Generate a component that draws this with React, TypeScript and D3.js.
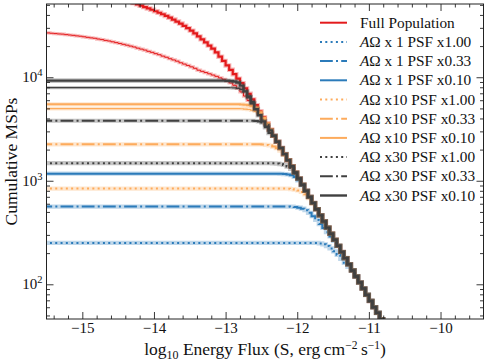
import * as d3 from "d3";
import { useEffect, useRef } from "react";

// log10 flux bins (0.05 dex wide); the full population starts at -14.40
const binWidth = 0.05;
const fullPopStart = -14.4;
const fullPop = [
  55200, 53700, 52100, 50600, 49100, 47600, 46200, 44900, 43400, 42000,
  40600, 39100, 37600, 36100, 34500, 33000, 31400, 29800, 28200, 26500,
  24800, 23200, 21700, 20200, 18900, 17400, 15800, 14400, 13000, 11800,
  10700, 9700, 8770, 7800, 6920, 6110, 5370, 4690, 4090, 3570,
  3120, 2720, 2380, 2070, 1810, 1580, 1380, 1200, 1050, 916,
  800, 698, 610, 531, 463, 405, 353, 308, 269, 235,
  205, 179, 156, 136, 119, 104, 91, 79, 69, 60,
  53, 46, 35,
];

// thin red curve (no legend entry), starts at -15.50
const thinRedStart = -15.5;
const thinRed = [
  26800, 26600, 26400, 26200, 26100, 25800, 25600, 25400, 25100, 24900,
  24600, 24300, 24000, 23800, 23400, 23100, 22700, 22400, 22000, 21600,
  21200, 20800, 20400, 20000, 19600, 19100, 18700, 18300, 17800, 17400,
  16900, 16500, 16000, 15600, 15100, 14700, 14300, 13800, 13400, 13000,
  12600, 12200, 11700, 11400, 11100, 10800, 10500, 10200, 9860, 9550,
  9200, 8810, 8360, 7820, 7210, 6580, 5960, 5370, 4840, 4370,
];

// per series: plateau level, where the knee starts, and knee values until it joins the full population
const levels = [251, 563, 1170, 840, 2250, 5480, 1480, 3800, 9270];
const kneeStarts = [-11.75, -12.15, -12.3, -12.2, -12.55, -12.85, -12.4, -12.65, -13.05];
const knees = [
  [251, 248, 243, 234, 222, 208, 192, 176, 161, 147],
  [563, 562, 558, 550, 538, 519, 490, 455, 418, 382, 350, 318, 290, 262],
  [1170, 1168, 1160, 1150, 1130, 1090, 1010, 900],
  [840, 838, 832, 822, 806, 780, 740, 680, 600],
  [2250, 2240, 2220, 2190, 2140, 2060, 1950, 1780],
  [5480, 5460, 5420, 5350, 5250, 5080, 4600, 4050],
  [1480, 1475, 1465, 1450, 1420, 1370, 1300, 1180],
  [3800, 3780, 3740, 3650, 3450, 3080],
  [9270, 9250, 9200, 9100, 8900, 8300, 7300, 6400, 5600, 4900, 4300, 3750, 3300, 2900],
];
const aoLabels = ["x 1", "x 1", "x 1", "x10", "x10", "x10", "x30", "x30", "x30"];
const psfLabels = ["x1.00", "x0.33", "x0.10", "x1.00", "x0.33", "x0.10", "x1.00", "x0.33", "x0.10"];

// thin companions of the solid lines (no legend entry)
const thinGrayLevel = 7940;
const thinGrayStart = -13.0;
const thinGrayKnee = [7940, 7920, 7880, 7800, 7650, 7300, 6600, 5850, 5100, 4500, 3950, 3450];
const thinOrangeLevel = 4970;
const thinOrangeStart = -12.85;
const thinOrangeKnee = [4970, 4960, 4930, 4880, 4800, 4680, 4450, 4000];

const xMajor = [-15, -14, -13, -12, -11, -10];
const yMajor = [100, 1000, 10000];
const yMajorExp = ["2", "3", "4"];

const RED = "#e31a1c";
const BLUE = "#2b7bba";
const ORANGE = "#fdab5c";
const DARK = "#404040";
const FONT = "'Liberation Serif', 'Times New Roman', serif";

const App = () => {
  const ref = useRef<SVGSVGElement>(null);

  useEffect(() => {
    document.body.style.margin = "0";
    const width = 488;
    const height = 362;
    const margin = { top: 4, right: 4.5, bottom: 43, left: 46.5 };
    const svg = d3.select(ref.current);
    svg.selectAll("*").remove();

    const x = d3.scaleLinear().domain([-15.5, -9.4]).range([margin.left, width - margin.right]);
    const y = d3.scaleLog().domain([46.2, 51000]).range([height - margin.bottom, margin.top]);

    svg.append("defs").append("clipPath").attr("id", "plot-clip")
      .append("rect")
      .attr("x", margin.left).attr("y", margin.top)
      .attr("width", width - margin.left - margin.right)
      .attr("height", height - margin.top - margin.bottom);

    const xLeft = -15.6;
    const tail = (from: number) => fullPop
      .map((v, i) => [fullPopStart + i * binWidth, v] as [number, number])
      .filter(d => d[0] > from - 1e-6);
    const build = (level: number, start: number, knee: number[]) => {
      const pts: [number, number][] = [[xLeft, level]];
      knee.forEach((v, i) => pts.push([start + i * binWidth, v]));
      return pts.concat(tail(start + knee.length * binWidth));
    };

    const line = d3.line<[number, number]>()
      .x(d => x(d[0]))
      .y(d => y(d[1]))
      .curve(d3.curveStepAfter);

    const plot = svg.append("g").attr("clip-path", "url(#plot-clip)");

    const draw = (pts: [number, number][], color: string, lw: number, dash: string | null, halo: boolean) => {
      if (halo) {
        plot.append("path")
          .attr("d", line(pts))
          .attr("fill", "none")
          .attr("stroke", color)
          .attr("stroke-opacity", 0.3)
          .attr("stroke-width", lw + 2.2);
      }
      plot.append("path")
        .attr("d", line(pts))
        .attr("fill", "none")
        .attr("stroke", color)
        .attr("stroke-width", lw)
        .attr("stroke-dasharray", dash);
    };

    const colors = [BLUE, BLUE, BLUE, ORANGE, ORANGE, ORANGE, DARK, DARK, DARK];
    const dashes = ["2,3.3", "12.8,3.2,2,3.2", null, "2,3.3", "12.8,3.2,2,3.2", null, "2,3.3", "12.8,3.2,2,3.2", null];

    // thin companions
    const thinRedPts: [number, number][] = [[xLeft, thinRed[0]]];
    thinRed.forEach((v, i) => thinRedPts.push([thinRedStart + i * binWidth, v]));
    draw(thinRedPts.concat(tail(thinRedStart + thinRed.length * binWidth)), RED, 1, null, true);
    draw([[xLeft, fullPop[0]] as [number, number]].concat(tail(fullPopStart)), RED, 2.2, null, true);
    draw(build(thinGrayLevel, thinGrayStart, thinGrayKnee), DARK, 1.2, null, true);
    draw(build(thinOrangeLevel, thinOrangeStart, thinOrangeKnee), ORANGE, 1.2, null, true);

    levels.forEach((lv, i) => {
      draw(build(lv, kneeStarts[i], knees[i]), colors[i], i === 8 ? 2.4 : 2, dashes[i], true);
    });

    // axes: ticks pointing inward on all four sides
    const xMinor = d3.range(-15.4, -9.4, 0.2).filter(v => Math.abs(v - Math.round(v)) > 0.01);
    const yMinor: number[] = [];
    [10, 100, 1000, 10000].forEach(b => d3.range(2, 10).forEach(m => {
      const v = b * m;
      if (v > 46.2 && v < 51000 && ![100, 1000, 10000].includes(v)) yMinor.push(v);
    }));

    const axisG = svg.append("g");
    const bottom = height - margin.bottom;
    const right = width - margin.right;
    const addAxis = (axis: d3.Axis<d3.NumberValue>, tr: string) => {
      const g = axisG.append("g").attr("transform", tr).call(axis);
      g.select(".domain").remove();
      g.selectAll("line").attr("stroke", "#222").attr("stroke-width", 0.9);
      return g;
    };

    const xb = addAxis(d3.axisBottom(x).tickValues(xMajor).tickSize(-7).tickPadding(3)
      .tickFormat(d => `\u2212${Math.abs(+d)}`), `translate(0,${bottom})`);
    xb.selectAll("text").attr("font-family", FONT).attr("font-size", 15).attr("fill", "#111");
    addAxis(d3.axisBottom(x).tickValues(xMinor).tickSize(-3.5).tickFormat(() => ""), `translate(0,${bottom})`);
    addAxis(d3.axisTop(x).tickValues(xMajor).tickSize(-7).tickFormat(() => ""), `translate(0,${margin.top})`);
    addAxis(d3.axisTop(x).tickValues(xMinor).tickSize(-3.5).tickFormat(() => ""), `translate(0,${margin.top})`);
    addAxis(d3.axisLeft(y).tickValues(yMajor).tickSize(-7).tickFormat(() => ""), `translate(${margin.left},0)`);
    addAxis(d3.axisLeft(y).tickValues(yMinor).tickSize(-3.5).tickFormat(() => ""), `translate(${margin.left},0)`);
    addAxis(d3.axisRight(y).tickValues(yMajor).tickSize(-7).tickFormat(() => ""), `translate(${right},0)`);
    addAxis(d3.axisRight(y).tickValues(yMinor).tickSize(-3.5).tickFormat(() => ""), `translate(${right},0)`);

    yMajor.forEach((v, i) => {
      const t = axisG.append("text")
        .attr("x", margin.left - 4)
        .attr("y", y(v) + 5)
        .attr("text-anchor", "end")
        .attr("font-family", FONT)
        .attr("font-size", 15)
        .attr("fill", "#111");
      t.append("tspan").text("10");
      t.append("tspan").attr("font-size", 10.5).attr("dy", -6).text(yMajorExp[i]);
    });

    svg.append("rect")
      .attr("x", margin.left).attr("y", margin.top)
      .attr("width", right - margin.left).attr("height", bottom - margin.top)
      .attr("fill", "none").attr("stroke", "#222").attr("stroke-width", 1);

    // axis labels
    svg.append("text")
      .attr("transform", `translate(17,${(margin.top + bottom) / 2}) rotate(-90)`)
      .attr("text-anchor", "middle")
      .attr("font-family", FONT)
      .attr("font-size", 17.5)
      .attr("fill", "#111")
      .text("Cumulative MSPs");

    const xl = svg.append("text")
      .attr("x", (margin.left + right) / 2)
      .attr("y", 355)
      .attr("text-anchor", "middle")
      .attr("font-family", FONT)
      .attr("font-size", 17.5)
      .attr("fill", "#111");
    xl.append("tspan").text("log");
    xl.append("tspan").attr("font-size", 12).attr("dy", 4).text("10");
    xl.append("tspan").attr("dy", -4).text(" Energy Flux (S, erg\u2009cm");
    xl.append("tspan").attr("font-size", 11.5).attr("dy", -6).text("\u22122");
    xl.append("tspan").attr("dy", 6).text("\u2009s");
    xl.append("tspan").attr("font-size", 11.5).attr("dy", -6).text("\u22121");
    xl.append("tspan").attr("dy", 6).text(")");

    // legend
    const legend = svg.append("g").attr("transform", "translate(320,0)");
    const rowY = (i: number) => 22.7 + i * 19.2;
    const rows = [{ color: RED, dash: null as string | null, lw: 2 }].concat(
      levels.map((_, i) => ({ color: colors[i], dash: dashes[i], lw: i === 8 ? 2.4 : 2 }))
    );
    rows.forEach((r, i) => {
      legend.append("line")
        .attr("x1", 0).attr("x2", 27)
        .attr("y1", rowY(i)).attr("y2", rowY(i))
        .attr("stroke", r.color).attr("stroke-width", r.lw)
        .attr("stroke-dasharray", r.dash);
      const t = legend.append("text")
        .attr("x", 40).attr("y", rowY(i) + 5)
        .attr("font-family", FONT).attr("font-size", 15.3).attr("fill", "#111");
      if (i === 0) {
        t.text("Full Population");
      } else {
        t.append("tspan").attr("font-style", "italic").text("A");
        t.append("tspan").text(`\u03a9 ${aoLabels[i - 1]} PSF ${psfLabels[i - 1]}`);
      }
    });
  });

  return (
    <svg ref={ref} width={488} height={362} style={{ display: "block", background: "#fff" }} />
  );
};

export default App;
